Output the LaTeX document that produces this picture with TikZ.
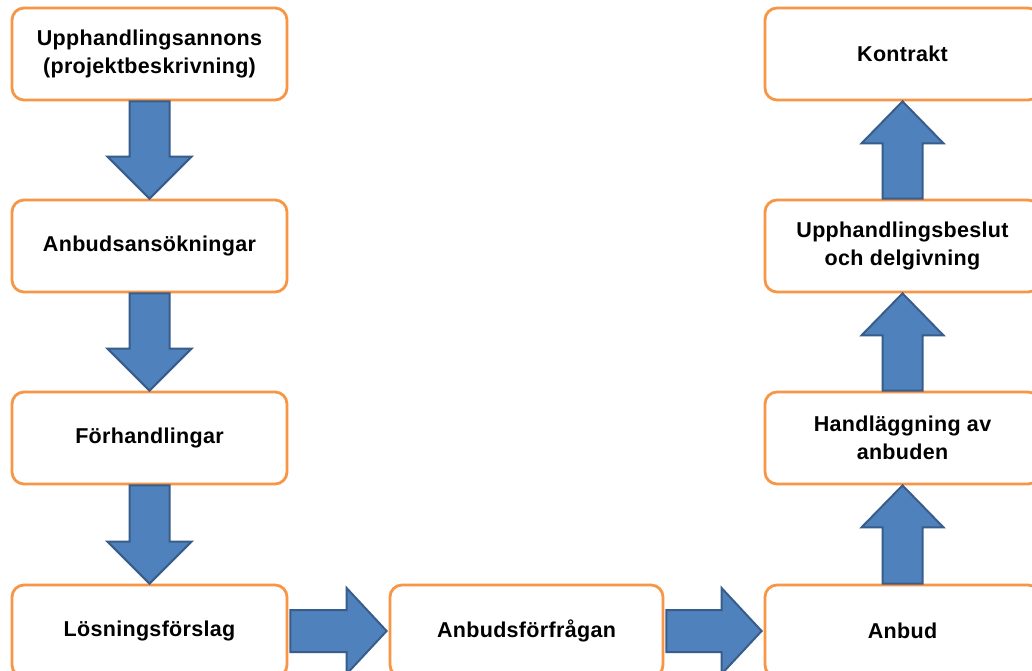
\documentclass[tikz,border=0pt]{standalone}
\usepackage{fontspec}
\setmainfont{Liberation Sans}[LetterSpace=1.5]
\usetikzlibrary{calc}
\definecolor{boxorange}{HTML}{F79646}
\definecolor{arrfill}{HTML}{4F81BD}
\definecolor{arrline}{HTML}{385D8A}
\tikzset{
  stepbox/.style={draw=boxorange, line width=2.8pt, fill=white, rounded corners=12pt,
    minimum width=275pt, minimum height=92pt, inner sep=0pt, align=center,
    font=\fontsize{21.5}{28}\selectfont\bfseries, text=black},
  midbox/.style={stepbox, minimum width=273pt},
  blockarrow/.style={fill=arrfill, draw=arrline, line width=2pt, line join=miter}
}
\begin{document}
\begin{tikzpicture}[x=1pt,y=-1pt]
\useasboundingbox (0,0) rectangle (1032,671);
\clip (0,0) rectangle (1032,671);
\fill[white] (0,0) rectangle (1032,671);
% left column
\node[stepbox] (a1) at (149.5,54) {Upphandlingsannons\\(projektbeskrivning)};
\node[stepbox] (a2) at (149.5,246) {Anbudsansökningar};
\node[stepbox] (a3) at (149.5,438) {Förhandlingar};
\node[stepbox] (a4) at (149.5,631) {Lösningsförslag};
% middle
\node[midbox] (m) at (526.5,631) {Anbudsförfrågan};
% right column
\node[stepbox] (r4) at (902.5,631) {Anbud};
\node[stepbox] (r3) at (902.5,438) {Handläggning av\\anbuden};
\node[stepbox] (r2) at (902.5,246) {Upphandlingsbeslut\\och delgivning};
\node[stepbox] (r1) at (902.5,54) {Kontrakt};
% down arrows
\foreach \A/\B in {a1/a2,a2/a3,a3/a4}{
  \draw[blockarrow] ($(\A.south)+(-20,0)$) -- ($(\B.north)+(-20,-42)$) -- ($(\B.north)+(-42,-42)$)
    -- (\B.north) -- ($(\B.north)+(42,-42)$) -- ($(\B.north)+(20,-42)$) -- ($(\A.south)+(20,0)$) -- cycle;
}
% up arrows
\foreach \A/\B in {r4/r3,r3/r2,r2/r1}{
  \draw[blockarrow] ($(\A.north)+(-20,0)$) -- ($(\B.south)+(-20,42)$) -- ($(\B.south)+(-41,42)$)
    -- (\B.south) -- ($(\B.south)+(41,42)$) -- ($(\B.south)+(20,42)$) -- ($(\A.north)+(20,0)$) -- cycle;
}
% right arrows
\foreach \A/\B in {a4/m,m/r4}{
  \draw[blockarrow] ($(\A.east)+(2,-21)$) -- ($(\B.west)+(-42,-21)$) -- ($(\B.west)+(-42,-43)$)
    -- ($(\B.west)+(-2,0)$) -- ($(\B.west)+(-42,43)$) -- ($(\B.west)+(-42,21)$) -- ($(\A.east)+(2,21)$) -- cycle;
}
\end{tikzpicture}
\end{document}
